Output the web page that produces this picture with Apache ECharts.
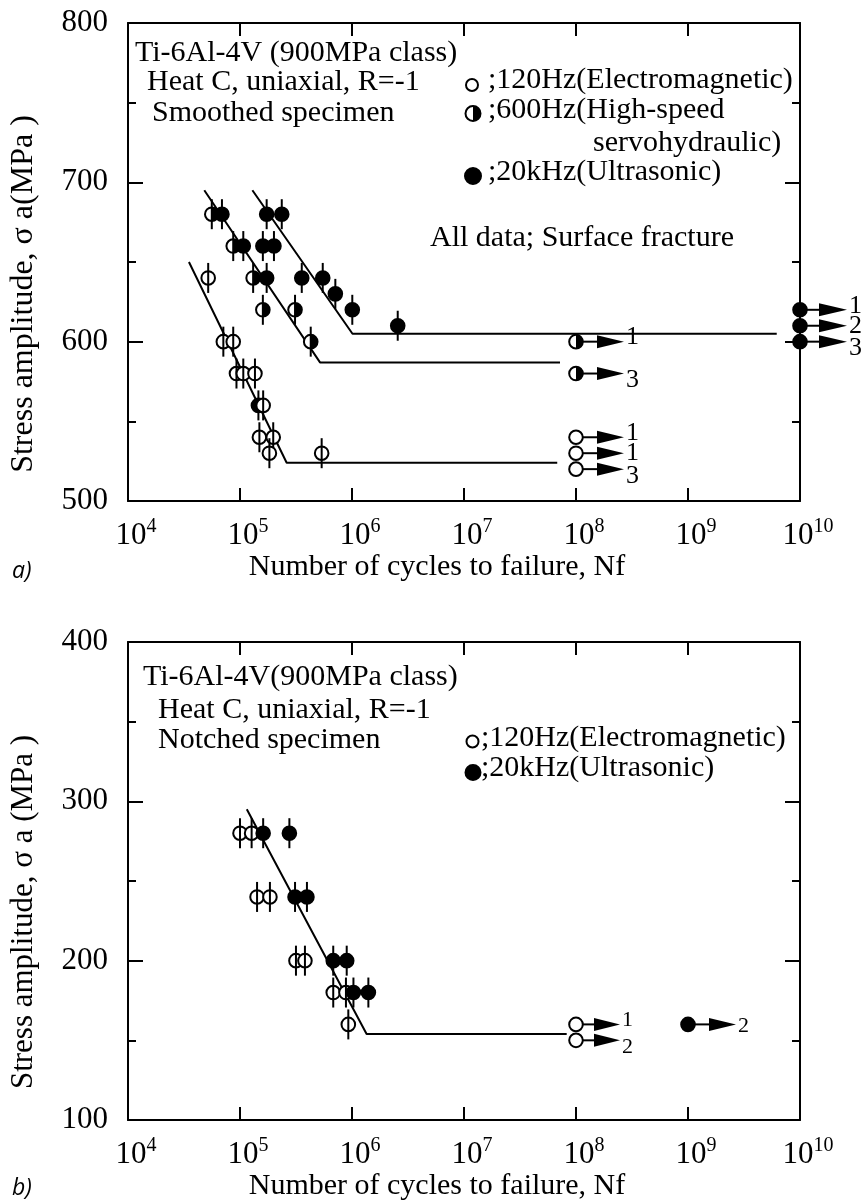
<!DOCTYPE html>
<html><head><meta charset="utf-8">
<script src="https://cdn.jsdelivr.net/npm/echarts@6/dist/echarts.min.js"></script>
<style>html,body{margin:0;padding:0;background:#fff}#c{width:862px;height:1202px}</style>
</head><body><div id="c"></div>
<script>
// ---------- DATA : panel a) smoothed specimen ----------
const aYMin = 500, aYMax = 800;
const bYMin = 100, bYMax = 400;
const xMin = 1e4, xMax = 1e10;

// [cycles to failure, stress amplitude MPa]
const a120Hz = [[52000,640],[71000,600],[87000,600],[93000,580],[107000,580],[136000,580],
                [161000,560],[149000,540],[198000,540],[183000,530],[536000,530]];
const a600Hz = [[56000,680],[87000,660],[131000,640],[160000,620],[310000,620],[428000,600]];
const a20kHz = [[69000,680],[173000,680],[236000,680],[107000,660],[160000,660],[201000,660],
                [173000,640],[356000,640],[548000,640],[710000,630],[1006000,620],[2560000,610],[146000,560]];
// run-outs: [cycles, stress, number of specimens]
const a120HzRunout = [[1e8,540,'1'],[1e8,530,'1'],[1e8,520,'3']];
const a600HzRunout = [[1e8,600,'1'],[1e8,580,'3']];
const a20kHzRunout = [[1e10,620,'1'],[1e10,610,'2'],[1e10,600,'3']];
// fitted S-N lines
const a120HzFit = [[35000,650],[261000,524],[68000000,524]];
const a600HzFit = [[48000,695],[518000,587],[72000000,587]];
const a20kHzFit = [[129000,695],[1010000,605],[6200000000,605]];

// ---------- DATA : panel b) notched specimen ----------
const b120Hz = [[100000,280],[127000,280],[142000,240],[185000,240],[316000,200],[380000,200],
                [680000,180],[883000,180],[927000,160]];
const b20kHz = [[161000,280],[276000,280],[310000,240],[396000,240],[680000,200],[897000,200],
                [1030000,180],[1400000,180]];
const b120HzRunout = [[1e8,160,'1'],[1e8,150,'2']];
const b20kHzRunout = [[1e9,160,'2']];
const bFit = [[115000,295],[1350000,154],[82600000,154]];

// ---------- rendering ----------
const SERIF = 'Liberation Serif';
const R = 6.8;
const chart = echarts.init(document.getElementById('c'), null, {renderer:'canvas'});

function circleEls(x, y, r, kind){
  const el = [{type:'circle', shape:{cx:x, cy:y, r:r},
    style:{fill: kind==='filled' ? '#000' : '#fff', stroke:'#000', lineWidth:2}}];
  if (kind === 'half') el.push({type:'sector', shape:{cx:x, cy:y, r0:0, r:r,
    startAngle:-Math.PI/2, endAngle:Math.PI/2, clockwise:true}, style:{fill:'#000'}});
  return el;
}
function markerRender(kind){
  return function(params, api){
    const p = api.coord([api.value(0), api.value(1)]);
    const ch = circleEls(p[0], p[1], R, kind);
    ch.push({type:'line', shape:{x1:p[0], y1:p[1]-15, x2:p[0], y2:p[1]+15},
      style:{stroke:'#000', lineWidth:2}});
    return {type:'group', children:ch};
  };
}
function runoutRender(src, kind, fs, L1, L2){
  return function(params, api){
    const p = api.coord([api.value(0), api.value(1)]);
    const me = src[params.dataIndex];
    const above = src.some(d => d !== me && d[0] === me[0] && d[1] > me[1] && d[1] - me[1] <= 25);
    const below = src.some(d => d !== me && d[0] === me[0] && d[1] < me[1] && me[1] - d[1] <= 25);
    const dy = (above && below) ? 0 : (below ? -4 : (above ? 7 : 2));
    const ch = [];
    ch.push({type:'line', shape:{x1:p[0], y1:p[1], x2:p[0]+L1, y2:p[1]}, style:{stroke:'#000', lineWidth:2}});
    ch.push({type:'polygon', shape:{points:[[p[0]+L1,p[1]-6.5],[p[0]+L2,p[1]],[p[0]+L1,p[1]+6.5]]}, style:{fill:'#000'}});
    circleEls(p[0], p[1], R, kind).forEach(e => ch.push(e));
    ch.push({type:'text', x:p[0]+L2+2, y:p[1]+dy, style:{text:me[2], fontSize:fs, fontFamily:SERIF,
      fill:'#000', align:'left', verticalAlign:'middle'}});
    return {type:'group', children:ch};
  };
}
function pts(src){ return src.map(d => [d[0], d[1]]); }

const axLine = {show:true, onZero:false, lineStyle:{color:'#000', width:2}};
function xAx(gi, pos, labels){
  return {type:'log', logBase:10, gridIndex:gi, position:pos, min:xMin, max:xMax, splitNumber:6,
    axisLine:axLine, axisTick:{show:true, inside:true, length:13, lineStyle:{color:'#000', width:2}},
    minorTick:{show:false}, splitLine:{show:false},
    axisLabel:{show:labels, margin:16, padding:[0,0,0,16],
      formatter:v => '{b|10}{s|' + Math.round(Math.log10(v)) + '}',
      rich:{b:{fontSize:31, fontFamily:SERIF, color:'#000'},
            s:{fontSize:20, fontFamily:SERIF, color:'#000', padding:[0,0,17,0]}}}};
}
function yAx(gi, pos, labels, mn, mx){
  return {type:'value', gridIndex:gi, position:pos, min:mn, max:mx, interval:100,
    axisLine:axLine, axisTick:{show:true, inside:true, length:15, lineStyle:{color:'#000', width:2}},
    minorTick:{show:true, splitNumber:2, length:8, lineStyle:{color:'#000', width:2}},
    splitLine:{show:false}, minorSplitLine:{show:false},
    axisLabel:{show:labels, margin:20, fontSize:31, fontFamily:SERIF, color:'#000'}};
}
function fitLine(data, xi, yi){
  return {type:'line', data:data, xAxisIndex:xi, yAxisIndex:yi, showSymbol:false, symbol:'none',
    lineStyle:{color:'#000', width:2}, silent:true, z:1};
}
function marks(data, kind, xi, yi, z){
  return {type:'custom', data:data, xAxisIndex:xi, yAxisIndex:yi, renderItem:markerRender(kind),
    encode:{x:0, y:1}, z:z, silent:true};
}
function runs(src, kind, xi, yi, fs, L1, L2){
  return {type:'custom', data:pts(src), xAxisIndex:xi, yAxisIndex:yi, clip:false,
    renderItem:runoutRender(src, kind, fs, L1, L2), encode:{x:0, y:1}, z:5, silent:true};
}
function T(text, x, y, size){
  return {type:'text', x:x, y:y, silent:true, style:{text:text, fontSize:size||30,
    fontFamily:SERIF, fill:'#000', align:'left', verticalAlign:'middle'}};
}
function dot(x, y, r, kind){
  return circleEls(x, y, r, kind).map(e => Object.assign(e, {silent:true}));
}

const yTitleA = T('Stress amplitude, σ a(MPa )', 24, 294, 32);
yTitleA.rotation = Math.PI/2; yTitleA.style.align = 'center';
const yTitleB = T('Stress amplitude, σ a (MPa )', 24, 912, 31);
yTitleB.rotation = Math.PI/2; yTitleB.style.align = 'center';
const xTitleA = T('Number of cycles to failure, Nf', 437, 567, 30); xTitleA.style.align = 'center';
const xTitleB = T('Number of cycles to failure, Nf', 437, 1186, 30); xTitleB.style.align = 'center';
const panA = T('a)', 12, 571, 23); panA.style.fontFamily = 'Open Sans'; panA.style.fontStyle = 'italic';
const panB = T('b)', 12, 1188, 23); panB.style.fontFamily = 'Open Sans'; panB.style.fontStyle = 'italic';

const graphics = [
  T('Ti-6Al-4V (900MPa class)', 135, 53),
  T('Heat C, uniaxial, R=-1', 147, 82),
  T('Smoothed specimen', 152, 113),
  T(';120Hz(Electromagnetic)', 488, 80),
  T(';600Hz(High-speed', 488, 110),
  T('servohydraulic)', 593, 143),
  T(';20kHz(Ultrasonic)', 488, 172),
  T('All data; Surface fracture', 430, 238),
  T('Ti-6Al-4V(900MPa class)', 143, 677),
  T('Heat C, uniaxial, R=-1', 158, 710),
  T('Notched specimen', 158, 740),
  T(';120Hz(Electromagnetic)', 481, 738),
  T(';20kHz(Ultrasonic)', 481, 768),
  yTitleA, yTitleB, xTitleA, xTitleB, panA, panB
].concat(dot(472, 85, 6, 'open'), dot(473, 113.5, 7.5, 'half'), dot(473, 176, 8, 'filled'),
         dot(472.5, 741.5, 6, 'open'), dot(473, 772.5, 7.5, 'filled'));

chart.setOption({
  animation:false,
  backgroundColor:'#fff',
  grid:[{left:128, top:23, width:672, height:478}, {left:128, top:642, width:672, height:478}],
  xAxis:[xAx(0,'bottom',true), xAx(0,'top',false), xAx(1,'bottom',true), xAx(1,'top',false)],
  yAxis:[yAx(0,'left',true,aYMin,aYMax), yAx(0,'right',false,aYMin,aYMax),
         yAx(1,'left',true,bYMin,bYMax), yAx(1,'right',false,bYMin,bYMax)],
  graphic:graphics,
  series:[
    fitLine(a120HzFit,0,0), fitLine(a600HzFit,0,0), fitLine(a20kHzFit,0,0),
    marks(a600Hz,'half',0,0,2), marks(a20kHz,'filled',0,0,3), marks(a120Hz,'open',0,0,4),
    runs(a120HzRunout,'open',0,0,26,21,48), runs(a600HzRunout,'half',0,0,26,21,48),
    runs(a20kHzRunout,'filled',0,0,26,19,47),
    fitLine(bFit,2,2),
    marks(b120Hz,'open',2,2,2), marks(b20kHz,'filled',2,2,3),
    runs(b120HzRunout,'open',2,2,22,18,44), runs(b20kHzRunout,'filled',2,2,22,21,48)
  ]
});
</script></body></html>
